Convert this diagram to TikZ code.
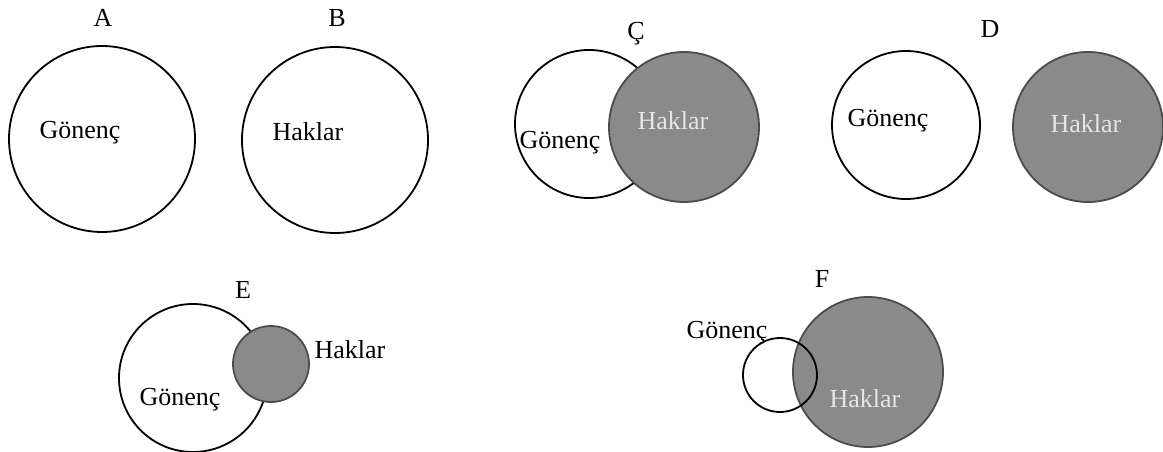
\documentclass[tikz,border=0pt]{standalone}
\usepackage{fontspec}
\setmainfont{Liberation Serif}
\definecolor{shade}{RGB}{138,138,138}
\tikzset{
  set/.style={circle, draw, line width=1.8pt, inner sep=0pt, minimum size=#1},
  gset/.style={set=#1, fill=shade, draw=black!70},
  lbl/.style={font=\fontsize{26}{30}\selectfont, inner sep=0pt, anchor=base},
  glbl/.style={lbl, text=white!90!black}
}

\begin{document}
\begin{tikzpicture}[x=1pt, y=-1pt]
\useasboundingbox (0,0) rectangle (1163,452);

\node[set=186pt] (a) at (102,139) {}; \node[lbl] (at) at (103,27) {A}; \node[lbl] (ag) at (80,139) {Gönenç};

\node[set=186pt] (b) at (335,140) {}; \node[lbl] (bt) at (337,27) {B}; \node[lbl] (bh) at (308,140) {Haklar};

\node[set=148pt] (cg) at (589,124) {}; \node[gset=150pt] (ch) at (684,127) {}; \node[lbl] (ct) at (636,40) {Ç}; \node[lbl] (cgl) at (560,148) {Gönenç}; \node[glbl] (chl) at (673,129) {Haklar};

\node[set=148pt] (dg) at (906,125) {}; \node[gset=150pt] (dh) at (1088,127) {}; \node[lbl] (dt) at (990,38) {D}; \node[lbl] (dgl) at (888,127) {Gönenç}; \node[glbl] (dhl) at (1086,132) {Haklar};

\node[set=148pt] (eg) at (193,378) {}; \node[gset=76pt] (eh) at (271,364) {}; \node[lbl] (et) at (243,298) {E}; \node[lbl] (egl) at (180,405) {Gönenç}; \node[lbl] (ehl) at (350,358) {Haklar};

\node[gset=150pt] (fh) at (868,372) {}; \node[set=74pt] (fg) at (780,375) {}; \node[lbl] (ft) at (822,287) {F}; \node[lbl] (fgl) at (727,338) {Gönenç}; \node[glbl] (fhl) at (865,407) {Haklar};

\end{tikzpicture}
\end{document}
